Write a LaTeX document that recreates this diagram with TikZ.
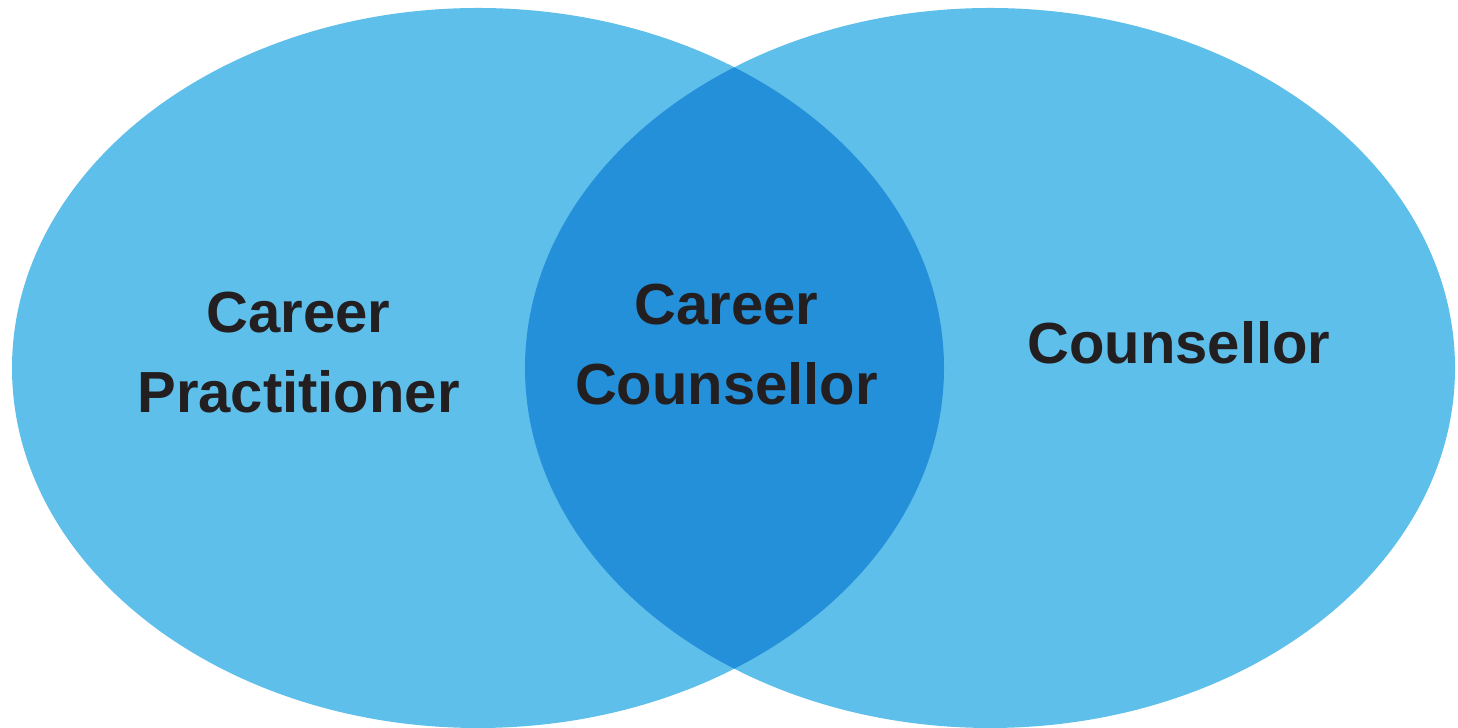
\documentclass[tikz,border=0pt]{standalone}
\usepackage{fontspec}
\setmainfont{Liberation Sans}
\usepackage{xcolor}
\usepackage{tikz}
\usetikzlibrary{positioning}

\definecolor{setblue}{HTML}{5EBFEA}
\definecolor{meetblue}{HTML}{2490D9}
\definecolor{labelink}{HTML}{231F20}

\begin{document}
\begin{tikzpicture}[
    setlabel/.style={text=labelink, font=\fontsize{33}{45.5}\selectfont\bfseries, align=center, inner sep=0pt}
  ]
        % Page frame
        \useasboundingbox (0,0) rectangle (29.16,14.56);

        % The two sets
        \fill[setblue] (9.56,7.2) ellipse [x radius=9.32, y radius=7.2];
        \fill[setblue] (19.8,7.2) ellipse [x radius=9.3, y radius=7.2];

        % Overlap of both sets
        \begin{scope}
            \clip (9.56,7.2) ellipse [x radius=9.32, y radius=7.2];
            \fill[meetblue] (19.8,7.2) ellipse [x radius=9.3, y radius=7.2];
        \end{scope}

        % Labels
        \node[setlabel] (practitioner) at (5.97,7.51) {Career\\Practitioner};
        \node[setlabel] (careercounsellor) at (14.53,7.66) {Career\\Counsellor};
        \node[setlabel] (counsellor) at (23.58,7.71) {Counsellor};

\end{tikzpicture}
\end{document}
